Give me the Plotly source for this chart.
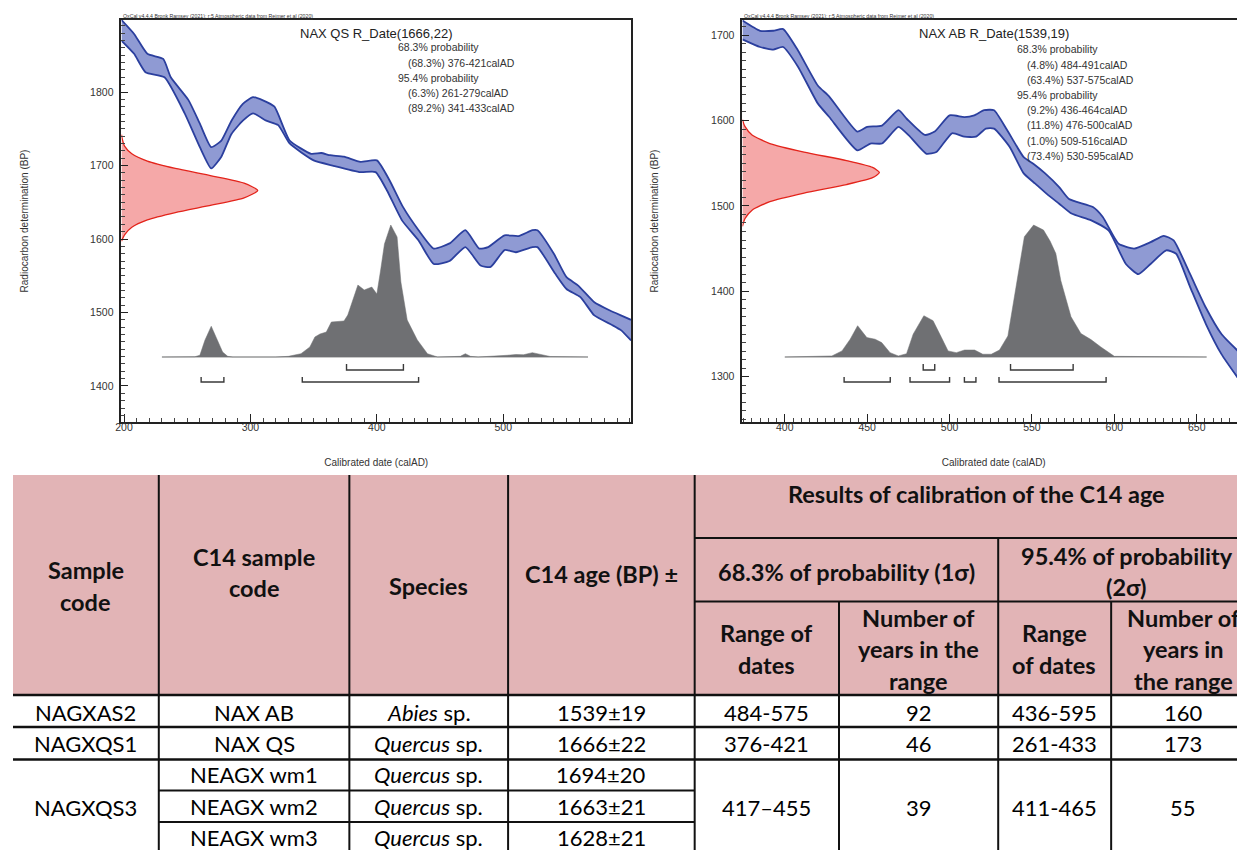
import plotly.graph_objects as go

# ---------------- NAX QS (left panel) ----------------
qs_title = "NAX QS R_Date(1666,22)"
qs_lines = ["68.3% probability", "(68.3%) 376-421calAD", "95.4% probability",
            "(6.3%) 261-279calAD", "(89.2%) 341-433calAD"]
qs_indent = [0, 1, 0, 1, 1]

qs_hi_year = [198, 208, 218.5, 231, 237, 251, 260, 269, 277, 285, 294, 302, 309.5, 319, 331, 348, 356, 363, 374, 387,
              400, 410, 420.5, 433, 445, 457.5, 470, 481, 488, 501, 512, 523, 527, 540, 550, 559, 572, 584, 593, 601]
qs_hi_bp = [1898, 1879, 1852, 1845, 1820, 1789, 1757, 1725, 1734, 1761, 1784, 1793, 1789, 1780, 1734, 1716, 1717, 1714,
            1712, 1705, 1707, 1680, 1644, 1612, 1587, 1594, 1612, 1587, 1589, 1605, 1604, 1612, 1612, 1580, 1548, 1537,
            1514, 1503, 1496, 1490]
qs_lo_year = [198, 208, 217, 232, 248, 260, 269, 277, 285, 294, 302, 312.5, 322, 331, 350, 365, 387, 399, 408, 420,
              433, 445, 457.5, 470, 482, 490, 501, 510, 523, 527, 541, 550, 561, 572, 586, 593, 601]
qs_lo_bp = [1870, 1852, 1827, 1820, 1771, 1725, 1696, 1712, 1743, 1761, 1771, 1761, 1755, 1730, 1707, 1700, 1691, 1691,
            1666, 1625, 1598, 1566, 1570, 1589, 1564, 1562, 1585, 1582, 1589, 1589, 1553, 1532, 1521, 1496, 1483, 1476,
            1462]
qs_meas_bp = [1597, 1606, 1616, 1626, 1636, 1646, 1656, 1666, 1676, 1686, 1696, 1706, 1716, 1726, 1736, 1742]
qs_meas_p = [0, 0.024, 0.076, 0.19, 0.395, 0.66, 0.90, 1.0, 0.90, 0.66, 0.395, 0.19, 0.076, 0.024, 0.006, 0]
qs_post_year = [230, 256, 260, 264, 269, 273, 278, 282, 286, 320, 330, 340, 347, 351, 355, 360, 364, 374, 377, 385,
                390, 396, 400, 403, 406, 411, 416, 419, 424, 432, 440, 448, 462, 466, 470, 474, 480, 495, 503, 510,
                516, 523, 530, 537, 567]
qs_post_p = [0, 0.002, 0.013, 0.127, 0.233, 0.152, 0.038, 0.005, 0, 0, 0.005, 0.025, 0.076, 0.152, 0.174, 0.189,
             0.265, 0.273, 0.318, 0.545, 0.508, 0.530, 0.477, 0.659, 0.856, 1.0, 0.909, 0.568, 0.280, 0.129, 0.025,
             0, 0, 0.005, 0.025, 0.005, 0, 0.005, 0.013, 0.019, 0.017, 0.033, 0.019, 0.004, 0]
qs_range68 = [(376, 421)]
qs_range95 = [(261, 279), (341, 433)]

# ---------------- NAX AB (right panel) ----------------
ab_title = "NAX AB R_Date(1539,19)"
ab_lines = ["68.3% probability", "(4.8%) 484-491calAD", "(63.4%) 537-575calAD", "95.4% probability",
            "(9.2%) 436-464calAD", "(11.8%) 476-500calAD", "(1.0%) 509-516calAD", "(73.4%) 530-595calAD"]
ab_indent = [0, 1, 1, 0, 1, 1, 1, 1]

ab_hi_year = [374.3, 385, 393, 399, 408, 420, 427, 444, 450, 459, 469, 474, 485, 491, 500, 509, 515, 521, 527, 535,
              545, 551, 558, 566.5, 572.5, 587, 593, 602.6, 612, 622, 630, 636, 646, 655.5, 665, 679.3]
ab_hi_bp = [1717, 1705, 1705, 1707, 1682, 1641, 1628, 1587, 1592.5, 1594, 1612, 1602, 1583, 1587, 1606, 1604, 1606,
            1612, 1612, 1588.5, 1557, 1549, 1538, 1522, 1508, 1498.6, 1487, 1455.6, 1450, 1457.5, 1465, 1459.5, 1420,
            1381, 1350, 1322]
ab_lo_year = [374.3, 385, 393, 399, 408, 420, 427, 444, 452, 459, 469, 476, 486, 492, 501.5, 509, 516, 522, 527,
              536.5, 545, 552, 559, 566.5, 574, 586, 596.6, 607, 614.6, 622, 631.5, 637.5, 646, 655.5, 665, 679.3]
ab_lo_bp = [1695, 1686, 1683, 1686, 1663, 1620, 1604, 1565, 1573, 1573, 1592.5, 1581, 1561, 1563, 1585, 1581, 1581,
            1590.5, 1590.5, 1569, 1538, 1526, 1514, 1502.5, 1491, 1483, 1471, 1432, 1420, 1432, 1448, 1444, 1405,
            1362, 1326.5, 1287]
ab_meas_bp = [1476, 1485, 1495, 1505, 1515, 1525, 1533, 1539, 1545, 1553, 1563, 1573, 1583, 1593, 1601]
ab_meas_p = [0, 0.018, 0.07, 0.2, 0.45, 0.76, 0.95, 1.0, 0.95, 0.76, 0.45, 0.2, 0.07, 0.018, 0]
ab_post_year = [400, 428.6, 434.7, 439.7, 444.2, 449.8, 454.8, 458.8, 463.9, 468.9, 473.9, 477.9, 484.4, 490, 495.1,
                499.1, 504.1, 509.1, 515.2, 520.2, 525.3, 530.3, 535.4, 540.4, 545.4, 551, 557, 561, 564.5, 567.5,
                573.7, 579.7, 585.8, 591.8, 600, 656]
ab_post_p = [0, 0.008, 0.046, 0.135, 0.237, 0.147, 0.135, 0.109, 0.033, 0.008, 0.025, 0.173, 0.313, 0.275, 0.147,
             0.046, 0.033, 0.053, 0.053, 0.021, 0.021, 0.053, 0.160, 0.529, 0.911, 1.0, 0.962, 0.878, 0.784, 0.580,
             0.305, 0.178, 0.132, 0.076, 0.005, 0]
ab_range68 = [(484, 491), (537, 575)]
ab_range95 = [(436, 464), (476, 500), (509, 516), (530, 595)]

oxcal_credit = "OxCal v4.4.4 Bronk Ramsey (2021); r:5 Atmospheric data from Reimer et al (2020)"

# ---------------- table ----------------
hdr_main = [["Sample", "code"], ["C14 sample", "code"], ["Species"], ["C14 age (BP) ±"]]
hdr_cal = "Results of calibration of the C14 age"
hdr_prob = [["68.3% of probability (1σ)"], ["95.4% of probability", "(2σ)"]]
hdr_sub = [["Range of", "dates"], ["Number of", "years in the", "range"], ["Range", "of dates"],
           ["Number of", "years in", "the range"]]
sample_codes = ["NAGXAS2", "NAGXQS1", "NAGXQS3"]
c14_codes = ["NAX AB", "NAX QS", "NEAGX wm1", "NEAGX wm2", "NEAGX wm3"]
species_genus = ["Abies", "Quercus", "Quercus", "Quercus", "Quercus"]
c14_ages = ["1539±19", "1666±22", "1694±20", "1663±21", "1628±21"]
range_1s = ["484-575", "376-421", "417–455"]
years_1s = ["92", "46", "39"]
range_2s = ["436-595", "261-433", "411-465"]
years_2s = ["160", "173", "55"]

# ---------------- styling / geometry ----------------
OFF = 8                      # page body margin of the html page
W, H = 1245 - OFF, 850 - OFF
PF = "Liberation Sans, Arial, sans-serif"
TF = "Lato, Carlito, Calibri, sans-serif"
BAND_FILL = "#8f9ad3"
BAND_LINE = "#2b3f9e"
RED_FILL = "#f5a8a8"
RED_LINE = "#e3241b"
GREY = "#6f7073"
PINK = "#e2b4b6"


def fx(p):
    return (p - OFF) / W


def fy(p):
    return 1 - (p - OFF) / H


Y_DOM = [fy(422), fy(20)]
POST_RANGE = [-0.4924, 2.553]

fig = go.Figure()


def add_panel(xa, ya, xo, yo, hi_x, hi_y, lo_x, lo_y, m_bp, m_p, post_x, post_p, r68, r95):
    fig.add_trace(go.Scatter(x=hi_x + lo_x[::-1], y=hi_y + lo_y[::-1], fill="toself", fillcolor=BAND_FILL,
                             line=dict(width=0, shape="spline", smoothing=0.5), mode="lines", hoverinfo="skip",
                             xaxis=xa, yaxis=ya))
    for xs, ys in ((hi_x, hi_y), (lo_x, lo_y)):
        fig.add_trace(go.Scatter(x=xs, y=ys, mode="lines",
                                 line=dict(color=BAND_LINE, width=1.8, shape="spline", smoothing=0.5),
                                 hoverinfo="skip", xaxis=xa, yaxis=ya))
    fig.add_trace(go.Scatter(x=m_p, y=m_bp, fill="toself", fillcolor=RED_FILL, mode="lines",
                             line=dict(color=RED_LINE, width=1.3, shape="spline", smoothing=0.6),
                             hoverinfo="skip", xaxis=xo, yaxis=ya))
    fig.add_trace(go.Scatter(x=[post_x[0], post_x[-1]], y=[0, 0], mode="lines",
                             line=dict(color="#b5b5b5", width=1.4), hoverinfo="skip", xaxis=xa, yaxis=yo))
    fig.add_trace(go.Scatter(x=post_x, y=post_p, fill="toself", fillcolor=GREY, mode="lines",
                             line=dict(color=GREY, width=0.5), hoverinfo="skip", xaxis=xa, yaxis=yo))
    for rr, base, top in ((r68, -0.0985, -0.053), (r95, -0.189, -0.1515)):
        bx, by = [], []
        for a, b in rr:
            bx += [a, a, b, b, None]
            by += [top, base, base, top, None]
        fig.add_trace(go.Scatter(x=bx, y=by, mode="lines", line=dict(color="#3a3a3a", width=1.4),
                                 hoverinfo="skip", xaxis=xa, yaxis=yo))


add_panel("x", "y", "x3", "y3", qs_hi_year, qs_hi_bp, qs_lo_year, qs_lo_bp, qs_meas_bp, qs_meas_p,
          qs_post_year, qs_post_p, qs_range68, qs_range95)
add_panel("x2", "y2", "x4", "y4", ab_hi_year, ab_hi_bp, ab_lo_year, ab_lo_bp, ab_meas_bp, ab_meas_p,
          ab_post_year, ab_post_p, ab_range68, ab_range95)


def xax(dom, rng, tv, minor_dt, anchor, mirror):
    return dict(domain=dom, range=rng, anchor=anchor, tickvals=tv, ticks="inside", ticklen=8, tickwidth=1.4,
                tickcolor="#222", minor=dict(dtick=minor_dt, tick0=0, ticks="inside", ticklen=4, tickwidth=1,
                                             tickcolor="#444"),
                showline=True, linecolor="#222", linewidth=1.6, mirror=mirror, showgrid=False, zeroline=False,
                tickfont=dict(family=PF, size=10.5, color="#333"), ticklabelstandoff=-5,
                title=dict(text="Calibrated date (calAD)", font=dict(family=PF, size=10, color="#333"), standoff=27))


def yax(rng, tv, anchor, mirror, standoff):
    return dict(domain=Y_DOM, range=rng, anchor=anchor, tickvals=tv, ticks="inside", ticklen=7, tickwidth=1.4,
                tickcolor="#222", minor=dict(dtick=10, tick0=0, ticks="inside", ticklen=3.5, tickwidth=1,
                                             tickcolor="#444"),
                showline=True, linecolor="#222", linewidth=1.8, mirror=mirror, showgrid=False, zeroline=False,
                tickfont=dict(family=PF, size=10.5, color="#333"), ticklabelstandoff=4,
                title=dict(text="Radiocarbon determination (BP)", font=dict(family=PF, size=10, color="#333"),
                           standoff=standoff))


fig.update_layout(
    width=W, height=H, margin=dict(l=0, r=0, t=0, b=0), paper_bgcolor="white", plot_bgcolor="white",
    showlegend=False,
    xaxis=xax([fx(116), fx(628)], [198, 601], [200, 300, 400, 500], 10, "y", True),
    yaxis=yax([1351, 1898], [1400, 1500, 1600, 1700, 1800], "x", True, 60),
    xaxis2=xax([fx(740), 1.0], [374.3, 679.3], [400, 450, 500, 550, 600, 650], 5, "y2", True),
    yaxis2=yax([1247, 1717.6], [1300, 1400, 1500, 1600, 1700], "x2", False, 51),
    xaxis3=dict(overlaying="x", anchor="y", range=[0, 3.74], visible=False),
    yaxis3=dict(overlaying="y", anchor="x", range=POST_RANGE, visible=False),
    xaxis4=dict(overlaying="x2", anchor="y2", range=[0, 3.67], visible=False),
    yaxis4=dict(overlaying="y2", anchor="x2", range=POST_RANGE, visible=False),
)

ann = []


def text(t, x, y, size, family, anchor="center", color="#111"):
    ann.append(dict(text=t, x=fx(x), y=fy(y), xref="paper", yref="paper", xanchor=anchor, yanchor="middle",
                    showarrow=False, font=dict(family=family, size=size, color=color)))


for (title, lines, indent, cx, tx, ty0) in ((qs_title, qs_lines, qs_indent, 372, 392, 47.5),
                                             (ab_title, ab_lines, ab_indent, 993, 1014, 49.3)):
    text(title, cx, 33.5, 13, PF, color="#222")
    for i, (ln, ind) in enumerate(zip(lines, indent)):
        text(ln, tx + 10 * ind, ty0 + 15.2 * i, 10.5, PF, anchor="left", color="#333")
text("<u>" + oxcal_credit + "</u>", 116, 16, 5.2, PF, anchor="left", color="#333")
text("<u>" + oxcal_credit + "</u>", 740, 16, 5.2, PF, anchor="left", color="#333")

# ---------------- table drawing ----------------
T_TOP, H1, H2, HB = 475, 538, 601.5, 695
R = [695, 727, 759.5, 790.5, 822, 850]
C = [7, 153.5, 345, 504.5, 692, 837, 997, 1110.5, 1258]
shapes = [dict(type="rect", xref="paper", yref="paper", x0=fx(C[0]), x1=fx(1260), y0=fy(HB), y1=fy(T_TOP),
               fillcolor=PINK, line=dict(width=0), layer="below")]


def hline(y, x0, x1, w=2):
    shapes.append(dict(type="line", xref="paper", yref="paper", x0=fx(x0), x1=fx(x1), y0=fy(y), y1=fy(y),
                       line=dict(color="#111", width=w)))


def vline(x, y0, y1, w=2):
    shapes.append(dict(type="line", xref="paper", yref="paper", x0=fx(x), x1=fx(x), y0=fy(y0), y1=fy(y1),
                       line=dict(color="#111", width=w)))


for cx in C[1:5]:
    vline(cx, T_TOP, 852)
vline(C[6], H1, 852)
vline(C[5], H2, 852)
vline(C[7], H2, 852)
hline(H1, C[4], 1260)
hline(H2, C[4], 1260)
hline(HB, C[0], 1260, 2.4)
hline(R[1], C[0], 1260, 2.4)
hline(R[2], C[0], 1260, 2.4)
hline(R[3], C[1], C[4])
hline(R[4], C[1], C[4])

HS = 23.5
LS = 31.5
hdr_y = [586, 572.5, 585.5, 574]
for i, lines in enumerate(hdr_main):
    cx = (C[i] + C[i + 1]) / 2
    n = len(lines)
    for j, ln in enumerate(lines):
        text("<b>" + ln + "</b>", cx, hdr_y[i] + (j - (n - 1) / 2) * LS, HS, TF)
text("<b>" + hdr_cal + "</b>", 975, 494, HS, TF)
prob_x = [(C[4] + C[6]) / 2, 1126]
prob_y = [571.7, 571.5]
for i, lines in enumerate(hdr_prob):
    n = len(lines)
    for j, ln in enumerate(lines):
        text("<b>" + ln + "</b>", prob_x[i], prob_y[i] + (j - (n - 1) / 2) * LS, HS, TF)
sub_x = [764.5, 917, 1053.5, 1183]
for i, lines in enumerate(hdr_sub):
    n = len(lines)
    for j, ln in enumerate(lines):
        text("<b>" + ln + "</b>", sub_x[i], 649 + (j - (n - 1) / 2) * LS, HS, TF)

DS = 22
row_y = [712, 743.5, 774.5, 806.5, 837.5]
sample_y = [712, 743.5, 807.5]
for s, y in zip(sample_codes, sample_y):
    text(s, (C[0] + C[1]) / 2, y, DS, TF, color="#000")
for k in range(5):
    text(c14_codes[k], (C[1] + C[2]) / 2, row_y[k], DS, TF, color="#000")
    text("<i>" + species_genus[k] + "</i> sp.", (C[2] + C[3]) / 2, row_y[k], DS, TF, color="#000")
    text(c14_ages[k], (C[3] + C[4]) / 2, row_y[k], DS, TF, color="#000")
for k in range(3):
    y = sample_y[k]
    text(range_1s[k], sub_x[0], y, DS, TF, color="#000")
    text(years_1s[k], sub_x[1], y, DS, TF, color="#000")
    text(range_2s[k], sub_x[2], y, DS, TF, color="#000")
    text(years_2s[k], sub_x[3], y, DS, TF, color="#000")

fig.update_layout(annotations=ann, shapes=shapes)
fig.write_html("out.html")
